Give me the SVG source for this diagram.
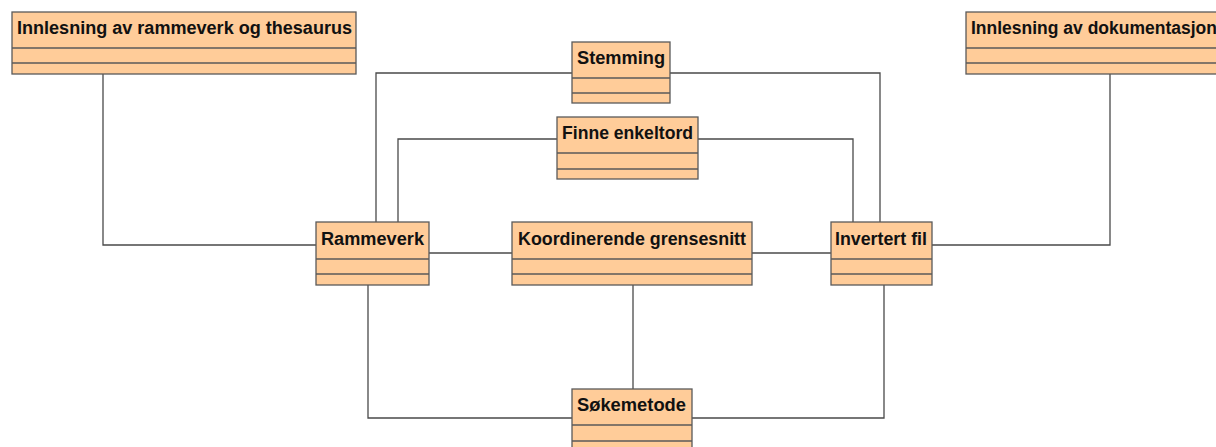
<svg xmlns="http://www.w3.org/2000/svg" width="1216" height="447" viewBox="0 0 1216 447">
  <style>
    .box { fill: #FFCC99; stroke: #5a5a5a; stroke-width: 1.3; }
    .sep { stroke: #5a5a5a; stroke-width: 1.3; }
    .title { font-family: "Liberation Sans", Arial, sans-serif; font-weight: bold; font-size: 18px; fill: #111; }
    .link { fill: none; stroke: #4a4a4a; stroke-width: 1.3; }
  </style>
  <rect width="1216" height="447" fill="#ffffff"/>

  <!-- associations -->
  <g id="connectors">
    <polyline class="link" points="103,74 103,245 316,245"/>
    <polyline class="link" points="1110,74 1110,245 932,245"/>
    <polyline class="link" points="572,73 376,73 376,222"/>
    <polyline class="link" points="670,73 880,73 880,222"/>
    <polyline class="link" points="557,139 398,139 398,222"/>
    <polyline class="link" points="698,139 853,139 853,222"/>
    <line class="link" x1="429" y1="253" x2="512" y2="253"/>
    <line class="link" x1="752" y1="253" x2="831" y2="253"/>
    <line class="link" x1="633" y1="285" x2="633" y2="389"/>
    <polyline class="link" points="368,285 368,418 572,418"/>
    <polyline class="link" points="884,285 884,418 692,418"/>
  </g>

  <g id="innlesning-rammeverk">
    <rect class="box" x="12" y="12" width="344" height="62"/>
    <line class="sep" x1="12" y1="48" x2="356" y2="48"/>
    <line class="sep" x1="12" y1="63" x2="356" y2="63"/>
    <text class="title" x="17" y="34" textLength="335" lengthAdjust="spacingAndGlyphs">Innlesning av rammeverk og thesaurus</text>
  </g>

  <!-- this class box runs past the right edge of the canvas -->
  <g id="innlesning-dokumentasjon">
    <rect class="box" x="966" y="12" width="290" height="62"/>
    <line class="sep" x1="966" y1="48" x2="1256" y2="48"/>
    <line class="sep" x1="966" y1="63" x2="1256" y2="63"/>
    <text class="title" x="971" y="34" textLength="246" lengthAdjust="spacingAndGlyphs">Innlesning av dokumentasjon</text>
  </g>

  <g id="stemming">
    <rect class="box" x="572" y="42" width="98" height="61"/>
    <line class="sep" x1="572" y1="78" x2="670" y2="78"/>
    <line class="sep" x1="572" y1="93" x2="670" y2="93"/>
    <text class="title" x="577" y="64" textLength="88" lengthAdjust="spacingAndGlyphs">Stemming</text>
  </g>

  <g id="finne-enkeltord">
    <rect class="box" x="557" y="117" width="141" height="62"/>
    <line class="sep" x1="557" y1="153" x2="698" y2="153"/>
    <line class="sep" x1="557" y1="169" x2="698" y2="169"/>
    <text class="title" x="562" y="139" textLength="131" lengthAdjust="spacingAndGlyphs">Finne enkeltord</text>
  </g>

  <g id="rammeverk">
    <rect class="box" x="316" y="222" width="113" height="63"/>
    <line class="sep" x1="316" y1="259" x2="429" y2="259"/>
    <line class="sep" x1="316" y1="274" x2="429" y2="274"/>
    <text class="title" x="321" y="245" textLength="103" lengthAdjust="spacingAndGlyphs">Rammeverk</text>
  </g>

  <g id="koordinerende-grensesnitt">
    <rect class="box" x="512" y="222" width="240" height="63"/>
    <line class="sep" x1="512" y1="259" x2="752" y2="259"/>
    <line class="sep" x1="512" y1="274" x2="752" y2="274"/>
    <text class="title" x="518" y="245" textLength="228" lengthAdjust="spacingAndGlyphs">Koordinerende grensesnitt</text>
  </g>

  <g id="invertert-fil">
    <rect class="box" x="831" y="222" width="101" height="63"/>
    <line class="sep" x1="831" y1="259" x2="932" y2="259"/>
    <line class="sep" x1="831" y1="274" x2="932" y2="274"/>
    <text class="title" x="835" y="245" textLength="92" lengthAdjust="spacingAndGlyphs">Invertert fil</text>
  </g>

  <g id="sokemetode">
    <rect class="box" x="572" y="389" width="120" height="63"/>
    <line class="sep" x1="572" y1="425" x2="692" y2="425"/>
    <line class="sep" x1="572" y1="441" x2="692" y2="441"/>
    <text class="title" x="577" y="411" textLength="109" lengthAdjust="spacingAndGlyphs">Søkemetode</text>
  </g>
</svg>
